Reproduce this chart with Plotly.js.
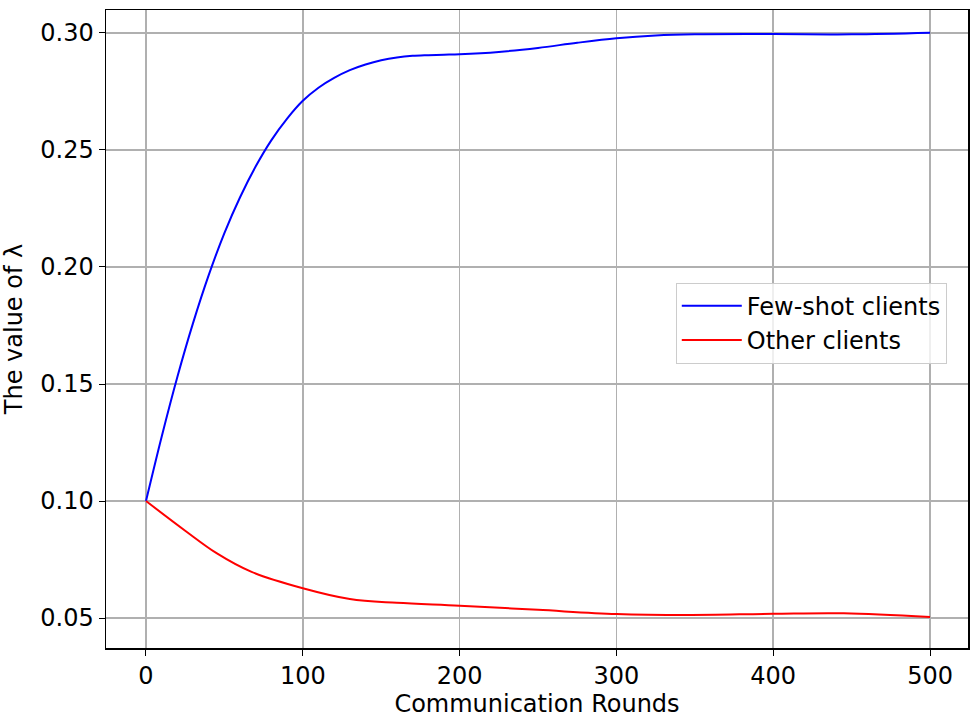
<!DOCTYPE html>
<html>
<head>
<meta charset="utf-8">
<script src="https://cdn.plot.ly/plotly-3.0.1.min.js"></script>
<style>
  body { margin: 0; background: #fff; }
  #chart { width: 974px; height: 718px; }
</style>
</head>
<body>
<div id="chart"></div>
<script>
// values
const rounds = [0, 10, 20, 30, 40, 50, 60, 70, 80, 90, 100, 110, 120, 130, 140, 150, 160, 170, 180, 190, 200, 225, 250, 275, 300, 325, 350, 400, 450, 500];
const fewShot = [0.100, 0.1275, 0.153, 0.176, 0.1965, 0.2145, 0.2298, 0.2430, 0.2542, 0.2634, 0.2710, 0.2766, 0.2808, 0.2841, 0.2865, 0.2883, 0.2895, 0.2902, 0.2905, 0.2907, 0.2909, 0.2919, 0.2936, 0.2958, 0.2977, 0.2989, 0.2994, 0.2995, 0.2994, 0.3001];
const otherRounds = [0, 25, 45, 67, 100, 130, 160, 200, 250, 300, 345, 400, 445, 500];
const others = [0.100, 0.0873, 0.0777, 0.0698, 0.0627, 0.0581, 0.0565, 0.0553, 0.0535, 0.0517, 0.0513, 0.0518, 0.0520, 0.0504];
const yTicks = [0.05, 0.10, 0.15, 0.20, 0.25, 0.30];
const xTicks = [0, 100, 200, 300, 400, 500];

const font = 'DejaVu Sans, sans-serif';

const traces = [
  {
    x: rounds,
    y: fewShot,
    mode: 'lines',
    name: 'Few-shot clients',
    line: {color: '#0000ff', width: 2, shape: 'spline', smoothing: 1}
  },
  {
    x: otherRounds,
    y: others,
    mode: 'lines',
    name: 'Other clients',
    line: {color: '#ff0000', width: 2, shape: 'spline', smoothing: 1}
  }
];

const layout = {
  width: 974,
  height: 718,
  margin: {l: 106, r: 6, t: 10, b: 70},
  paper_bgcolor: '#fff',
  plot_bgcolor: '#fff',
  font: {family: font, size: 24, color: '#000'},
  showlegend: true,
  legend: {
    x: 0.661, y: 0.509, xanchor: 'left', yanchor: 'middle',
    bordercolor: '#cccccc', borderwidth: 1, bgcolor: 'rgba(255,255,255,0.8)',
    itemwidth: 60,
    font: {family: font, size: 24}
  },
  xaxis: {
    range: [-25.5, 524.2],
    tickvals: xTicks,
    ticktext: xTicks.map(String),
    showgrid: true, gridcolor: '#b0b0b0', gridwidth: 1.5,
    zeroline: false,
    showline: true, linecolor: '#000', linewidth: 1.5, mirror: true,
    ticks: 'outside', ticklen: 6, tickcolor: '#000',
    tickfont: {family: font, size: 24},
    title: {text: 'Communication Rounds', font: {family: font, size: 24}, standoff: 12}
  },
  yaxis: {
    range: [0.0372, 0.3098],
    tickvals: yTicks,
    ticktext: yTicks.map(v => v.toFixed(2)),
    showgrid: true, gridcolor: '#b0b0b0', gridwidth: 1.5,
    zeroline: false,
    showline: true, linecolor: '#000', linewidth: 1.5, mirror: true,
    ticks: 'outside', ticklen: 6, tickcolor: '#000',
    tickfont: {family: font, size: 24},
    title: {text: 'The value of λ', font: {family: font, size: 24}, standoff: 12}
  }
};

Plotly.newPlot('chart', traces, layout, {staticPlot: true});
</script>
</body>
</html>
